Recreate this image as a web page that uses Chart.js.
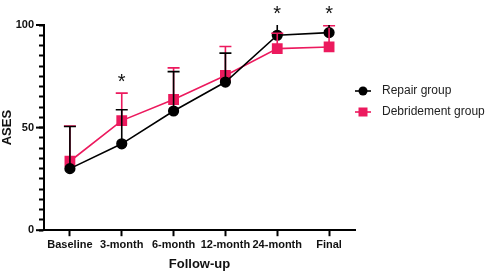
<!DOCTYPE html>
<html>
<head>
<meta charset="utf-8">
<script src="https://cdn.jsdelivr.net/npm/chart.js@4.4.1/dist/chart.umd.min.js"></script>
<style>
  html, body { margin: 0; padding: 0; background: #fff; }
  #wrap { width: 486px; height: 272px; }
</style>
</head>
<body>
<div id="wrap"><canvas id="chart"></canvas></div>
<script>
const categories = ['Baseline', '3-month', '6-month', '12-month', '24-month', 'Final'];
const repairMean = [30.0, 42.1, 58.1, 72.2, 95.0, 96.3];
const repairUpper = [50.5, 58.7, 77.3, 86.3, 100, 100];
const debridementMean = [33.6, 53.4, 63.7, 75.4, 88.5, 89.3];
const debridementUpper = [50.8, 66.8, 79.1, 89.5, 96, 99.6];
const significant = [false, true, false, false, true, true];
const yTickLabels = [0, 50, 100];

const BLACK = '#000000';
const PINK = '#ec1a5e';

// draws the upper error bars, the stars and the legend
const extras = {
    id: 'extras',
    afterDatasetsDraw(chart) {
        const ctx = chart.ctx;
        const x = chart.scales.x, y = chart.scales.y;
        const uppers = [repairUpper, debridementUpper];
        // pink first so black sits above
        [1, 0].forEach(di => {
            const ds = chart.data.datasets[di];
            ctx.save();
            ctx.strokeStyle = ds.borderColor;
            ctx.lineWidth = 1.6;
            ds.data.forEach((v, i) => {
                const px = x.getPixelForValue(i);
                const py0 = y.getPixelForValue(v) - 4.5;
                const py1 = y.getPixelForValue(uppers[di][i]);
                if (py1 >= py0) return;
                ctx.beginPath();
                ctx.moveTo(px, py0);
                ctx.lineTo(px, py1);
                if (uppers[di][i] < 100) {
                    ctx.moveTo(px - 6, py1);
                    ctx.lineTo(px + 6, py1);
                }
                ctx.stroke();
            });
            ctx.restore();
        });

        ctx.save();
        ctx.fillStyle = '#111';
        ctx.font = '20px "Liberation Sans", Arial, sans-serif';
        ctx.textAlign = 'center';
        ctx.textBaseline = 'middle';
        significant.forEach((s, i) => {
            if (!s) return;
            const top = Math.max(repairUpper[i], debridementUpper[i]);
            ctx.fillText('*', x.getPixelForValue(i), y.getPixelForValue(top) - 11);
        });
        ctx.restore();

        // minor ticks are drawn by the scale; lengthen the labelled ones
        ctx.save();
        ctx.strokeStyle = BLACK;
        ctx.lineWidth = 2;
        yTickLabels.forEach(v => {
            const py = y.getPixelForValue(v);
            ctx.beginPath();
            ctx.moveTo(chart.chartArea.left - 8, py);
            ctx.lineTo(chart.chartArea.left, py);
            ctx.stroke();
        });
        ctx.restore();

        // legend
        ctx.save();
        const lx = 363;
        chart.data.datasets.forEach((ds, i) => {
            const ly = 91 + i * 21;
            ctx.strokeStyle = ds.borderColor;
            ctx.lineWidth = 1.6;
            ctx.beginPath();
            ctx.moveTo(lx - 8, ly);
            ctx.lineTo(lx + 8, ly);
            ctx.stroke();
            ctx.fillStyle = ds.backgroundColor;
            if (ds.pointStyle === 'circle') {
                ctx.beginPath();
                ctx.arc(lx, ly, 4.5, 0, Math.PI * 2);
                ctx.fill();
            } else {
                ctx.fillRect(lx - 4.5, ly - 4.5, 9, 9);
            }
            ctx.fillStyle = '#222';
            ctx.font = '12px "Liberation Sans", Arial, sans-serif';
            ctx.textAlign = 'left';
            ctx.textBaseline = 'middle';
            ctx.fillText(ds.label, 382, ly);
        });
        ctx.restore();
    }
};

new Chart(document.getElementById('chart'), {
    type: 'line',
    data: {
        labels: categories,
        datasets: [
            {
                label: 'Repair group',
                data: repairMean,
                borderColor: BLACK,
                backgroundColor: BLACK,
                pointStyle: 'circle',
                pointRadius: 4.8,
                pointHoverRadius: 4.8,
                borderWidth: 1.6,
                tension: 0
            },
            {
                label: 'Debridement group',
                data: debridementMean,
                borderColor: PINK,
                backgroundColor: PINK,
                pointStyle: 'rect',
                pointRadius: 6.5,
                pointHoverRadius: 6.5,
                borderWidth: 1.6,
                tension: 0
            }
        ]
    },
    plugins: [extras],
    options: {
        responsive: true,
        maintainAspectRatio: false,
        animation: false,
        layout: { padding: { top: 25, right: 131, left: 0, bottom: 0 } },
        plugins: {
            legend: { display: false },
            tooltip: { enabled: false }
        },
        scales: {
            x: {
                offset: true,
                grid: { drawOnChartArea: false, tickLength: 6, tickWidth: 2, tickColor: BLACK },
                border: { color: BLACK, width: 2 },
                ticks: {
                    color: '#111',
                    padding: 2,
                    maxRotation: 0,
                    autoSkip: false,
                    font: { family: '"Liberation Sans", Arial, sans-serif', size: 11, weight: 'bold' }
                },
                title: {
                    display: true,
                    text: 'Follow-up',
                    color: '#111',
                    padding: { top: 3, bottom: 0 },
                    font: { family: '"Liberation Sans", Arial, sans-serif', size: 13, weight: 'bold' }
                }
            },
            y: {
                min: 0,
                max: 100,
                afterFit(scale) { scale.width = 44; },
                grid: { drawOnChartArea: false, tickLength: 5, tickWidth: 2, tickColor: BLACK },
                border: { color: BLACK, width: 2 },
                ticks: {
                    stepSize: 5,
                    autoSkip: false,
                    padding: 5,
                    color: '#111',
                    callback: v => yTickLabels.includes(v) ? v : '',
                    font: { family: '"Liberation Sans", Arial, sans-serif', size: 11, weight: 'bold' }
                },
                title: {
                    display: true,
                    text: 'ASES',
                    color: '#111',
                    padding: { top: 0, bottom: 0 },
                    font: { family: '"Liberation Sans", Arial, sans-serif', size: 13, weight: 'bold' }
                }
            }
        }
    }
});
</script>
</body>
</html>
